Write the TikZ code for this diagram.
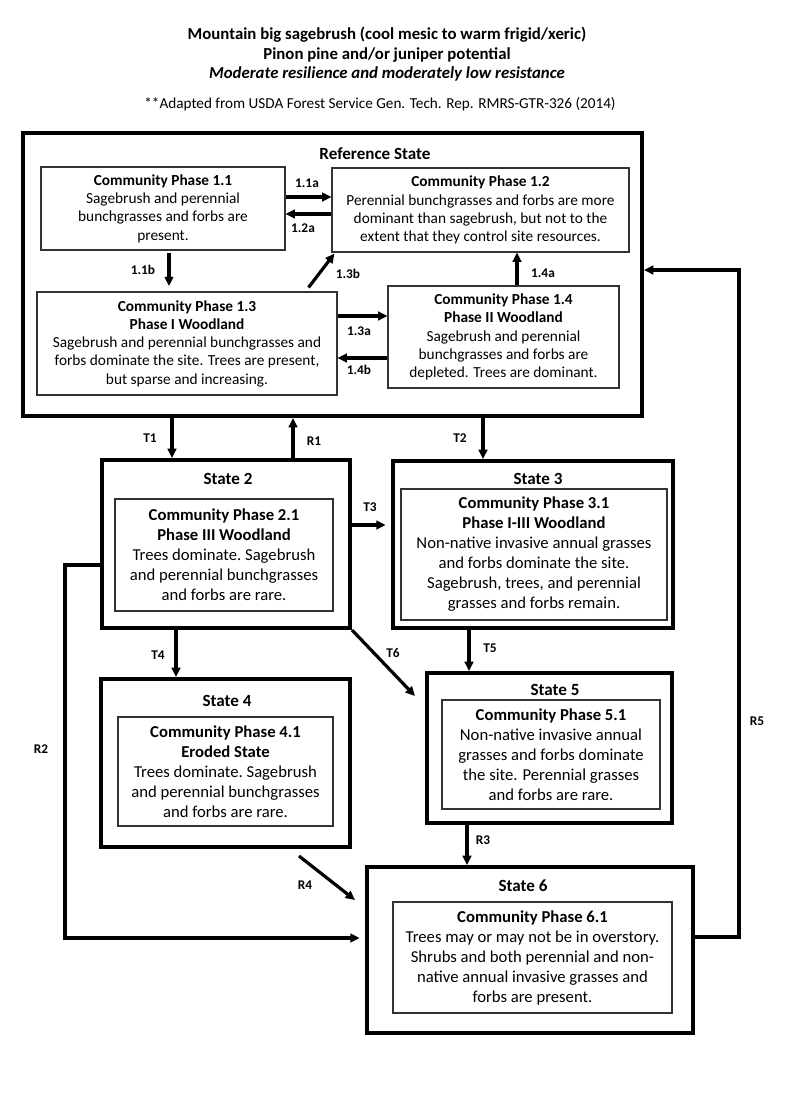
\documentclass[tikz,border=0pt]{standalone}
\usepackage{fontspec}
\setmainfont{Carlito}
\usetikzlibrary{arrows.meta}
\newcommand{\statebox}[5][]{\node[statebox,minimum width=#4*0.75pt,minimum height=#5*0.75pt,#1] at (#2) (#3) {}}
\newcommand{\phasebox}[6][]{\node[phase,minimum width=#4*0.75pt,minimum height=#5*0.75pt,#1] at (#2) (#3) {#6}}
\newcommand{\topfont}{\fontsize{11.5}{13.7}\selectfont}
\newcommand{\lowfont}{\fontsize{12.5}{15}\selectfont}

\begin{document}
\begin{tikzpicture}[x=0.75pt,y=-0.75pt,
		statebox/.style={draw,line width=3pt,inner sep=0pt},
		phase/.style={draw=black!80,line width=0.8pt,align=center,inner sep=0pt},
		arr/.style={line width=2.4pt,-{Triangle[length=7pt,width=6.5pt]}},
		lbl/.style={font=\fontsize{10}{12}\selectfont\bfseries,inner sep=1pt},
		ttl/.style={font=\fontsize{12.8}{14}\selectfont\bfseries}]
					\useasboundingbox (0,0) rectangle (800,1100);
					
					\node[font=\fontsize{12.6}{14.6}\selectfont\bfseries,align=center] (title) at (387,54.5) {Mountain big sagebrush (cool mesic to warm frigid/xeric)\\Pinon pine and/or juniper potential\\\textit{Moderate resilience and moderately low resistance}};
					\node[font=\fontsize{11.4}{13}\selectfont] (source) at (380,104) {**Adapted from USDA Forest Service Gen. Tech. Rep. RMRS-GTR-326 (2014)};
					
					% reference state
					\statebox{332.5,274.5}{ref}{619}{283};
					\node[ttl] (reftitle) at (375,154) {Reference State};
					\phasebox[font=\topfont]{163,208.5}{cp11}{244}{83}{\textbf{Community Phase 1.1}\\Sagebrush and perennial\\bunchgrasses and forbs are\\present.};
					\phasebox[font=\topfont]{480.5,210}{cp12}{297}{84}{\textbf{Community Phase 1.2}\\Perennial bunchgrasses and forbs are more\\dominant than sagebrush, but not to the\\extent that they control site resources.};
					\phasebox[font=\topfont]{187,343.5}{cp13}{300}{103}{\textbf{Community Phase 1.3}\\\textbf{Phase I Woodland}\\Sagebrush and perennial bunchgrasses and\\forbs dominate the site. Trees are present,\\but sparse and increasing.};
					\phasebox[font=\topfont]{503.5,337}{cp14}{231}{102}{\textbf{Community Phase 1.4}\\\textbf{Phase II Woodland}\\Sagebrush and perennial\\bunchgrasses and forbs are\\depleted. Trees are dominant.};
					
					% states 2 to 6
					\statebox{226,544}{s2}{248}{168};
					\node[ttl] (s2title) at (228,479) {State 2};
					\phasebox[font=\lowfont]{224,555}{cp21}{218}{112}{\textbf{Community Phase 2.1}\\\textbf{Phase III\ Woodland}\\Trees dominate.\ Sagebrush\\and perennial bunchgrasses\\and forbs are rare.};
					
					\statebox{533,544.5}{s3}{280}{167};
					\node[ttl] (s3title) at (538,479) {State 3};
					\phasebox[font=\lowfont]{534,554.5}{cp31}{266}{131}{\textbf{Community Phase 3.1}\\\textbf{Phase I-III\ Woodland}\\Non-native\ invasive annual grasses\\and forbs dominate the site.\\Sagebrush, trees, and perennial\\grasses and forbs remain.};
					
					\statebox{225.5,763}{s4}{249}{168};
					\node[ttl] (s4title) at (227,701) {State 4};
					\phasebox[font=\lowfont]{225.5,771.5}{cp41}{215}{109}{\textbf{Community Phase 4.1}\\\textbf{Eroded State}\\Trees dominate.\ Sagebrush\\and perennial bunchgrasses\\and forbs are rare.};
					
					\statebox{549.5,748}{s5}{245}{150};
					\node[ttl] (s5title) at (555,690) {State 5};
					\phasebox[font=\lowfont]{551,754.5}{cp51}{218}{109}{\textbf{Community Phase 5.1}\\Non-native\ invasive annual\\grasses and forbs dominate\\the site. Perennial grasses\\and forbs are rare.};
					
					\statebox{530,950}{s6}{326}{166};
					\node[ttl] (s6title) at (523,886) {State 6};
					\phasebox[font=\lowfont]{532.5,957.5}{cp61}{279}{111}{\textbf{Community Phase 6.1}\\Trees may or may not be in overstory.\\Shrubs\ and both perennial and non-\\native annual invasive grasses and\\forbs are present.};
					
					% pathways inside the reference state
					\draw[arr] (cp11.east |- 0,197) -- node[lbl,shift={(-1.5,-14)}] {1.1a} (cp12.west |- 0,197);
					\draw[arr] (cp12.west |- 0,214) -- node[lbl,shift={(-5.5,14)}] {1.2a} (cp11.east |- 0,214);
					\draw[arr,shorten <=2pt,shorten >=4pt] (169,0 |- cp11.south) -- node[lbl,shift={(-26,-1)}] {1.1b} (169,0 |- cp13.north);
					\draw[arr] ([shift={(-29,-4)}]cp13.north east) -- node[lbl,shift={(26.5,3.5)}] {1.3b} ([shift={(3,1)}]cp12.south west);
					\draw[arr] (cp13.east |- 0,316) -- node[lbl,shift={(-3.5,15)}] {1.3a} (cp14.west |- 0,316);
					\draw[arr] (cp14.west |- 0,358) -- node[lbl,shift={(-3.5,12)}] {1.4b} (cp13.east |- 0,358);
					\draw[arr] (517,0 |- cp14.north) -- node[lbl,shift={(26,4)}] {1.4a} (517,0 |- cp12.south);
					
					% transitions and restorations
					\draw[arr] (172,0 |- ref.south) -- node[lbl,shift={(-22,0)}] {T1} (172,0 |- s2.north);
					\draw[arr] (293,0 |- s2.north) -- node[lbl,shift={(21,3)}] {R1} (293,0 |- ref.south);
					\draw[arr] (483,0 |- ref.south) -- node[lbl,shift={(-23,0)}] {T2} (483,0 |- s3.north);
					\draw[arr,shorten >=4pt] (s2.east |- 0,525) -- node[lbl,shift={(-1.5,-18)}] {T3} (s3.west |- 0,525);
					\draw[arr] (176,0 |- s2.south) -- node[lbl,shift={(-18,1.5)}] {T4} (176,0 |- s4.north);
					\draw[arr] (469,0 |- s3.south) -- node[lbl,shift={(21,-2.5)}] {T5} (469,0 |- s5.north);
					\draw[arr] (s2.south east) -- node[lbl,shift={(9.5,-10)}] {T6} ([shift={(-10,25)}]s5.north west);
					\draw[arr] (467,0 |- s5.south) -- node[lbl,shift={(16,-5)}] {R3} (467,0 |- s6.north);
					\draw[arr] ([shift={(-53,7)}]s4.south east) -- node[lbl,shift={(-22,7)}] {R4} ([shift={(-10,35)}]s6.north west);
					\draw[arr,shorten >=4pt] ([shift={(0,21)}]s2.west) -- ++(-35,0) |- node[lbl,pos=0.247,shift={(-24,0)}] {R2} ([shift={(0,-12)}]s6.west);
					\draw[arr] ([shift={(0,-13)}]s6.east) -- ++(44,0) |- node[lbl,pos=0.162,shift={(18,0)}] {R5} ([shift={(0,-4.5)}]ref.east);
				\end{tikzpicture}
\end{document}
